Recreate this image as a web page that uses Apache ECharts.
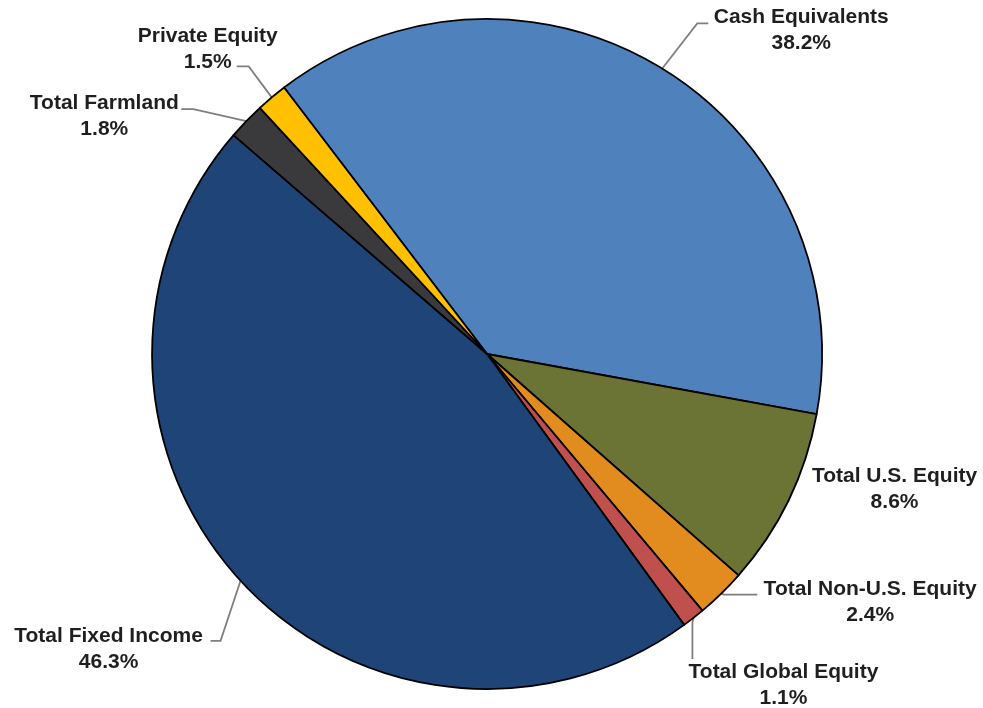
<!DOCTYPE html>
<html>
<head>
<meta charset="utf-8">
<title>Asset Allocation</title>
<script src="https://cdn.jsdelivr.net/npm/echarts@6/dist/echarts.min.js"></script>
<style>
  html, body { margin: 0; padding: 0; background: #ffffff; }
  #chart { width: 983px; height: 708px; }
</style>
</head>
<body>
<div id="chart"></div>
<script>
// Asset classes, clockwise from the top of the pie
const categories = [
  'Cash Equivalents',
  'Total U.S. Equity',
  'Total Non-U.S. Equity',
  'Total Global Equity',
  'Total Fixed Income',
  'Total Farmland',
  'Private Equity'
];
// Share of the portfolio, in percent
const shares = [38.2, 8.6, 2.4, 1.1, 46.3, 1.8, 1.5];
const sliceColors = ['#4F81BD', '#6B7335', '#E28B1F', '#C0504D', '#1E4478', '#3A3A3C', '#FFC000'];

// Label placement relative to the point where each slice's mid-angle meets the rim:
// text centre offset, and the bend/end points of the leader line.
const labelOffsets = {
  'Cash Equivalents':      { text: [139, -38], line: [[35, -45], [46, -45]] },
  'Total U.S. Equity':     { text: [106, -11], line: null },
  'Total Non-U.S. Equity': { text: [149, 9],   line: [[3, 1], [36, 1]] },
  'Total Global Equity':   { text: [90, 67],   line: [[-1, 5], [-1, 41]] },
  'Total Fixed Income':    { text: [-132, 68], line: [[-20, 60], [-30, 60]] },
  'Total Farmland':        { text: [-142, -5], line: [[-53, -12], [-65, -12]] },
  'Private Equity':        { text: [-64, -48], line: [[-23, -31], [-35, -31]] }
};

const chart = echarts.init(document.getElementById('chart'), null, { renderer: 'canvas' });

const seriesData = categories.map((name, i) => {
  const item = {
    name: name,
    value: shares[i],
    itemStyle: { color: sliceColors[i] }
  };
  if (!labelOffsets[name].line) {
    item.labelLine = { lineStyle: { opacity: 0 } };
  }
  return item;
});

chart.setOption({
  animation: false,
  backgroundColor: '#ffffff',
  series: [{
    type: 'pie',
    center: ['49.55%', '50%'],
    radius: 335,
    startAngle: 127.3,
    clockwise: true,
    avoidLabelOverlap: false,
    silent: true,
    data: seriesData,
    itemStyle: {
      borderColor: '#000000',
      borderWidth: 1.8
    },
    label: {
      show: true,
      position: 'outside',
      bleedMargin: 0,
      formatter: '{t|{b}}\n{t|{c}%}',
      rich: {
        t: {
          align: 'center',
          fontFamily: '"Liberation Sans", Arial, sans-serif',
          fontWeight: 'bold',
          fontSize: 21,
          lineHeight: 26,
          color: '#1F1F1F'
        }
      }
    },
    labelLine: {
      show: true,
      length: 5,
      length2: 5,
      smooth: false,
      lineStyle: { color: '#7F7F7F', width: 1.8 }
    },
    labelLayout: function (params) {
      const name = categories[params.dataIndex];
      const off = labelOffsets[name];
      const pts = params.labelLinePoints;
      if (!pts || !pts.length) {
        return {};
      }
      const p0 = pts[0];
      const layout = {
        x: p0[0] + off.text[0],
        y: p0[1] + off.text[1],
        align: 'center',
        verticalAlign: 'middle'
      };
      if (off.line) {
        layout.labelLinePoints = [p0].concat(off.line.map(d => [p0[0] + d[0], p0[1] + d[1]]));
      } else {
        layout.labelLinePoints = [p0, p0];
      }
      return layout;
    }
  }]
});
</script>
</body>
</html>
